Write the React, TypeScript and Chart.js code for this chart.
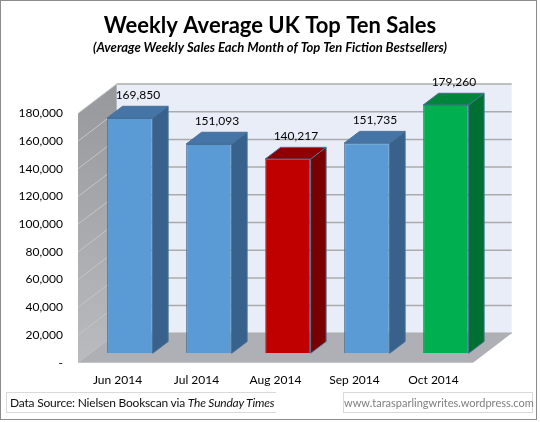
import React, { useEffect, useRef } from 'react';
import { Chart, registerables } from 'chart.js';

Chart.register(...registerables);

// ---- data ----
const categories = ['Jun 2014', 'Jul 2014', 'Aug 2014', 'Sep 2014', 'Oct 2014'];
const weeklySales = [169850, 151093, 140217, 151735, 179260];
const yTickValues = [0, 20000, 40000, 60000, 80000, 100000, 120000, 140000, 160000, 180000];
const titleText = 'Weekly Average UK Top Ten Sales';
const subtitleText = '(Average Weekly Sales Each Month of Top Ten Fiction Bestsellers)';
const sourcePrefix = 'Data Source: Nielsen Bookscan via ';
const sourceTitle = 'The Sunday Times';
const siteText = 'www.tarasparlingwrites.wordpress.com';

// ---- styles ----
const FONT = 'Lato, "Open Sans", sans-serif';
const PALETTE: Record<string, { front: string; top: string; side: string }> = {
  blue: { front: '#5B9BD5', top: '#4475A6', side: '#38628B' },
  red: { front: '#C00000', top: '#8E0000', side: '#780000' },
  green: { front: '#00B050', top: '#00853C', side: '#006F32' },
};
const barKinds = ['blue', 'blue', 'red', 'blue', 'green'];
const OUTLINE = '#4A6F97';
const DEPTH = { dx: 38.7, dy: -29.4 }; // full depth of floor/walls
const BAR_POS = 0.32; // bar front face position within depth
const BAR_DEPTH = 0.4; // bar depth fraction

const threeD = {
  id: 'threeD',
  beforeDatasetsDraw(chart: any) {
    const { ctx, chartArea: a, scales } = chart;
    const y = scales.y;
    const { dx, dy } = DEPTH;
    ctx.save();
    // back wall
    ctx.fillStyle = '#E9EDF7';
    ctx.fillRect(a.left + dx, a.top + dy, a.right - a.left, a.bottom - a.top);
    // side wall
    const g = ctx.createLinearGradient(0, a.top + dy, 0, a.bottom);
    g.addColorStop(0, '#96989B');
    g.addColorStop(1, '#B9BBBE');
    ctx.fillStyle = g;
    ctx.beginPath();
    ctx.moveTo(a.left, a.top);
    ctx.lineTo(a.left + dx, a.top + dy);
    ctx.lineTo(a.left + dx, a.bottom + dy);
    ctx.lineTo(a.left, a.bottom);
    ctx.closePath();
    ctx.fill();
    // gridlines
    yTickValues.forEach((v) => {
      const py = y.getPixelForValue(v);
      ctx.strokeStyle = '#ABABAB';
      ctx.lineWidth = 1.5;
      ctx.beginPath();
      ctx.moveTo(a.left + dx, py + dy);
      ctx.lineTo(a.right + dx, py + dy);
      ctx.stroke();
      ctx.strokeStyle = '#C4C5C7';
      ctx.lineWidth = 1;
      ctx.beginPath();
      ctx.moveTo(a.left, py);
      ctx.lineTo(a.left + dx, py + dy);
      ctx.stroke();
    });
    // floor
    ctx.fillStyle = '#AEB0B5';
    ctx.beginPath();
    ctx.moveTo(a.left, a.bottom);
    ctx.lineTo(a.right, a.bottom);
    ctx.lineTo(a.right + dx, a.bottom + dy);
    ctx.lineTo(a.left + dx, a.bottom + dy);
    ctx.closePath();
    ctx.fill();
    ctx.restore();

    // bars: translate to bar depth, draw top & side faces
    ctx.save();
    ctx.translate(dx * BAR_POS, dy * BAR_POS);
    const bdx = dx * BAR_DEPTH;
    const bdy = dy * BAR_DEPTH;
    const meta = chart.getDatasetMeta(0);
    meta.data.forEach((el: any, i: number) => {
      const p = el.getProps(['x', 'y', 'base', 'width'], true);
      const l = p.x - p.width / 2;
      const r = p.x + p.width / 2;
      const c = PALETTE[barKinds[i]];
      ctx.lineWidth = 1;
      ctx.strokeStyle = OUTLINE;
      ctx.fillStyle = c.side;
      ctx.beginPath();
      ctx.moveTo(r, p.y);
      ctx.lineTo(r + bdx, p.y + bdy);
      ctx.lineTo(r + bdx, p.base + bdy);
      ctx.lineTo(r, p.base);
      ctx.closePath();
      ctx.fill();
      ctx.stroke();
      ctx.fillStyle = c.top;
      ctx.beginPath();
      ctx.moveTo(l, p.y);
      ctx.lineTo(l + bdx, p.y + bdy);
      ctx.lineTo(r + bdx, p.y + bdy);
      ctx.lineTo(r, p.y);
      ctx.closePath();
      ctx.fill();
      ctx.stroke();
    });
  },
  afterDatasetsDraw(chart: any) {
    const { ctx } = chart;
    ctx.restore();
    const { dx, dy } = DEPTH;
    const meta = chart.getDatasetMeta(0);
    ctx.save();
    ctx.font = `12px ${FONT}`;
    ctx.fillStyle = '#000';
    ctx.textAlign = 'center';
    ctx.textBaseline = 'middle';
    meta.data.forEach((el: any, i: number) => {
      const p = el.getProps(['x', 'y'], true);
      const tx = p.x + dx * BAR_POS + 8;
      const ty = p.y + dy * BAR_POS + dy * BAR_DEPTH - 11;
      ctx.fillText(weeklySales[i].toLocaleString('en-US'), tx, ty);
    });
    ctx.restore();
  },
};

export default function App() {
  const ref = useRef<HTMLCanvasElement>(null);
  useEffect(() => {
    const chart = new Chart(ref.current as HTMLCanvasElement, {
      type: 'bar',
      data: {
        labels: categories,
        datasets: [
          {
            data: weeklySales,
            backgroundColor: barKinds.map((k) => PALETTE[k].front),
            borderColor: OUTLINE,
            borderWidth: 1,
            categoryPercentage: 1,
            barPercentage: 0.576,
          },
        ],
      },
      options: {
        animation: false,
        responsive: false,
        layout: { padding: { left: 0, right: 0, top: 0, bottom: 0 }, autoPadding: false },
        plugins: {
          legend: { display: false },
          tooltip: { enabled: false },
          title: {
            display: true,
            text: titleText,
            color: '#000',
            font: { family: FONT, size: 22, weight: 'bold' },
            padding: { top: 12.8, bottom: 0 },
          },
          subtitle: {
            display: true,
            text: subtitleText,
            color: '#000',
            font: { family: FONT, size: 13, weight: 'bold', style: 'italic' },
            padding: { top: 1, bottom: 57.6 },
          },
        },
        scales: {
          x: {
            grid: { display: false, drawTicks: false },
            border: { display: false },
            ticks: { color: '#000', font: { family: FONT, size: 12 }, padding: 10, maxRotation: 0 },
            afterFit: (s: any) => {
              s.height = 59.3;
            },
          },
          y: {
            min: 0,
            max: 180000,
            grid: { display: false, drawTicks: false },
            border: { display: false },
            afterBuildTicks: (s: any) => {
              s.ticks = yTickValues.map((v) => ({ value: v }));
            },
            ticks: {
              color: '#000',
              font: { family: FONT, size: 12 },
              padding: 15,
              callback: (v: any) => (Number(v) === 0 ? '-' : Number(v).toLocaleString('en-US')),
            },
            afterFit: (s: any) => {
              s.width = 78;
            },
          },
          spacer: {
            type: 'linear',
            position: 'right',
            display: true,
            grid: { display: false, drawTicks: false },
            border: { display: false },
            ticks: { display: false },
            afterFit: (s: any) => {
              s.width = 67;
            },
          },
        },
      },
      plugins: [threeD],
    });
    return () => chart.destroy();
  }, []);

  return (
    <div style={{ position: 'absolute', left: 0, top: 0, width: 540, height: 422, background: '#fff', fontFamily: FONT }}>
      <canvas ref={ref} width={540} height={422} style={{ position: 'absolute', left: 0, top: 0 }} />
      <div
        style={{
          position: 'absolute',
          left: 0,
          top: 0,
          width: 537,
          height: 420,
          border: '1px solid #8C8C8C',
          boxSizing: 'border-box',
          pointerEvents: 'none',
        }}
      />
      <div
        style={{
          position: 'absolute',
          left: 6,
          top: 392,
          width: 270,
          height: 21,
          boxSizing: 'border-box',
          borderTop: '1px solid #D9D9D9',
          borderLeft: '1px solid #D9D9D9',
          borderBottom: '1px solid #D9D9D9',
          fontSize: 12,
          letterSpacing: '-0.2px',
          lineHeight: '19px',
          paddingLeft: 3,
          color: '#111',
          whiteSpace: 'nowrap',
        }}
      >
        {sourcePrefix}
        <i>{sourceTitle}</i>
      </div>
      <div
        style={{
          position: 'absolute',
          left: 343,
          top: 392,
          width: 190,
          height: 21,
          boxSizing: 'border-box',
          border: '1px solid #D9D9D9',
          fontSize: 11,
          lineHeight: '19px',
          textAlign: 'center',
          color: '#7F7F7F',
          whiteSpace: 'nowrap',
        }}
      >
        {siteText}
      </div>
    </div>
  );
}
